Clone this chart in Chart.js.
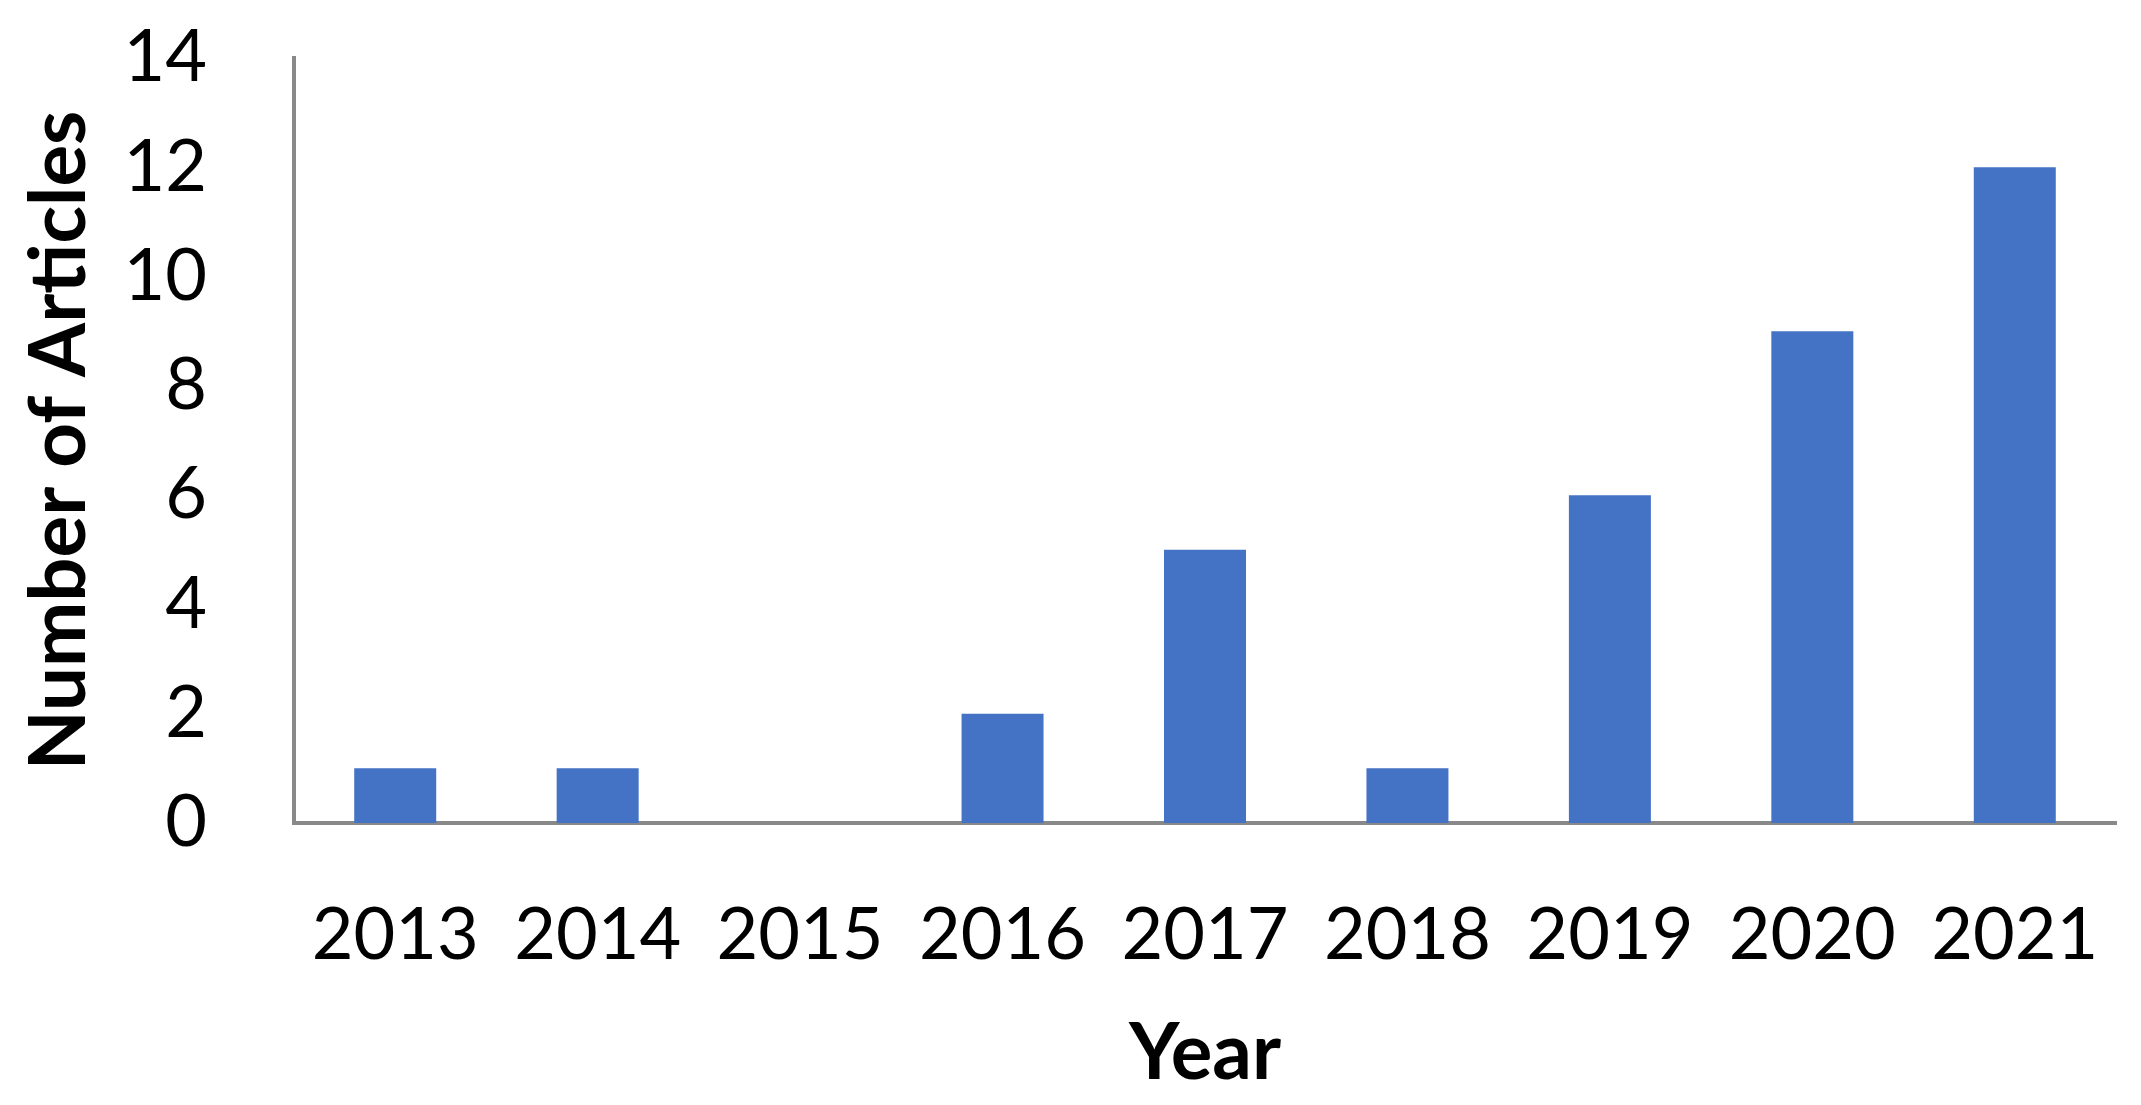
<!DOCTYPE html>
<html lang="en">
<head>
  <meta charset="UTF-8">
  <script src="https://cdn.jsdelivr.net/npm/chart.js"></script>
  <title>Number of Articles per Year</title>
  <style>
    body{margin: 0; background: #fff;}
    #wrap{width: 2141px; height: 1105px;}
  </style>
</head>
<body>
  <div id="wrap">
    <canvas id="myChart" width="2141" height="1105"></canvas>
  </div>
  <script>
    // data
    const years = ["2013", "2014", "2015", "2016", "2017", "2018", "2019", "2020", "2021"];
    const articles = [1, 1, 0, 2, 5, 1, 6, 9, 12];
    const yTicks = [0, 2, 4, 6, 8, 10, 12, 14];

    const ctx = document.getElementById('myChart');
    const tickFont = {family: 'Lato', size: 72};
    const titleFont = {family: 'Lato', size: 78, weight: 'bold'};

    // the label paddings would shrink the plot, the layout padding sets it instead
    function noLabelPadding(scale){
      scale.paddingTop = 0; scale.paddingBottom = 0;
      scale.paddingLeft = 0; scale.paddingRight = 0;
    }

    new Chart(ctx, {
      type: 'bar',
      data: {
        labels: years,
        datasets: [{
          label: 'Number of Articles',
          data: articles,
          backgroundColor: '#4472C4',
          categoryPercentage: 1,
          barPercentage: 0.405
        }]
      },
      options: {
        responsive: false,
        animation: false,
        layout: {padding: {left: 0, top: 58, right: 25, bottom: 0}},
        plugins: {legend: {display: false}, tooltip: {enabled: false}},
        scales: {
          x: {
            grid: {display: false},
            border: {display: true, color: '#898989', width: 4},
            ticks: {color: '#000', font: tickFont, padding: 62, maxRotation: 0},
            title: {display: true, text: 'Year', color: '#000', font: titleFont, padding: {top: 0, bottom: 4}},
            afterFit: function(scale){ scale.height = 1105 - 823; noLabelPadding(scale); }
          },
          y: {
            min: 0,
            max: 14,
            grid: {display: false},
            border: {display: true, color: '#898989', width: 4},
            ticks: {color: '#000', font: tickFont, padding: 79},
            afterBuildTicks: function(scale){ scale.ticks = yTicks.map(v => ({value: v})); },
            title: {display: true, text: 'Number of Articles', color: '#000', font: titleFont, padding: {top: 13, bottom: 0}},
            afterFit: function(scale){ scale.width = 294; noLabelPadding(scale); }
          }
        }
      }
    });
  </script>
</body>
</html>
